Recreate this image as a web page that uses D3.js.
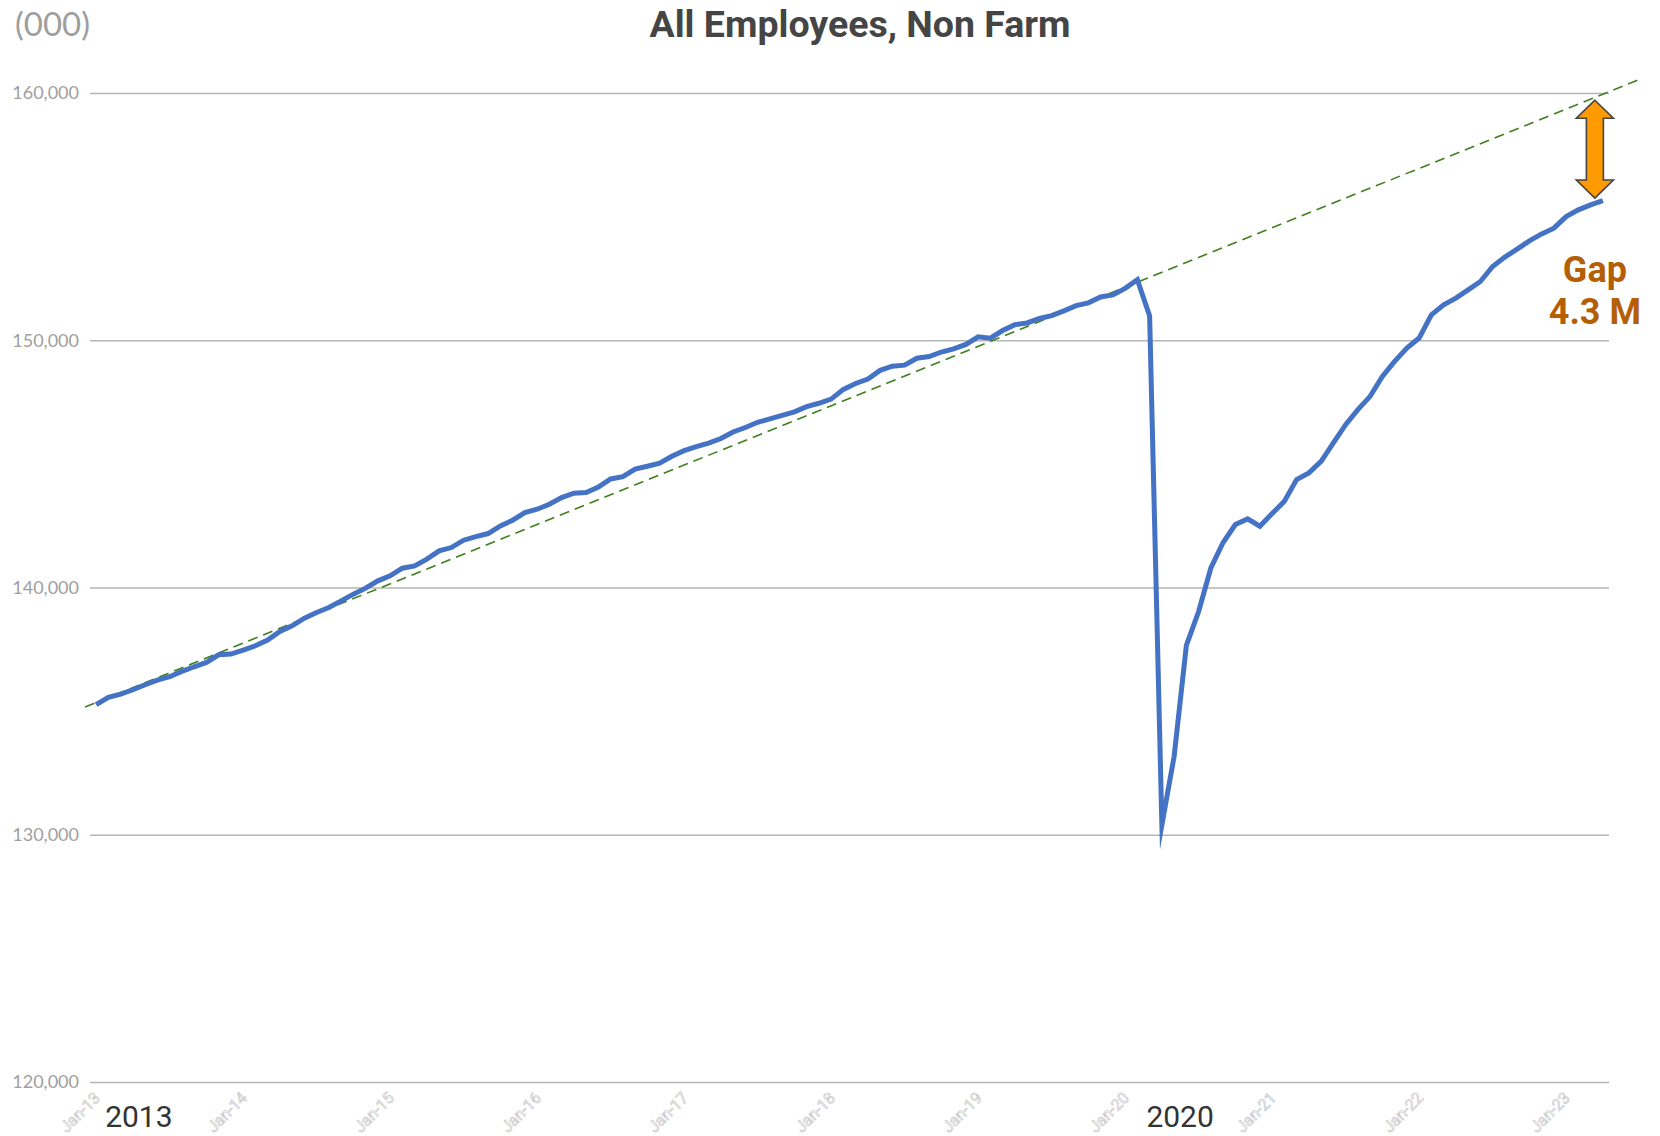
<!DOCTYPE html>
<html>
<head>
<meta charset="utf-8">
<script src="https://cdn.jsdelivr.net/npm/d3@7"></script>
<style>
  html, body { margin: 0; padding: 0; background: #ffffff; }
  svg { display: block; }
</style>
</head>
<body>
<svg id="chart" width="1660" height="1136"></svg>
<script>
// All employees, total nonfarm (thousands), monthly Jan 2013 – Apr 2023
const firstMonth = new Date(2013, 0, 1);
const employees = [
  135259, 135555, 135690, 135865, 136067, 136256, 136390, 136606, 136794, 136969, 137279, 137306,
  137468, 137643, 137872, 138222, 138451, 138761, 138990, 139192, 139461, 139731, 139973, 140269,
  140471, 140781, 140876, 141145, 141482, 141616, 141913, 142061, 142182, 142492, 142721, 143031,
  143165, 143367, 143637, 143812, 143839, 144060, 144390, 144484, 144792, 144904, 145030, 145310,
  145534, 145702, 145842, 146024, 146290, 146472, 146682, 146822, 146962, 147102, 147312, 147452,
  147620, 148012, 148250, 148432, 148782, 148950, 148992, 149272, 149342, 149524, 149650, 149832,
  150140, 150084, 150392, 150630, 150700, 150882, 150994, 151190, 151400, 151512, 151750, 151834,
  152100, 152450, 150980, 130400, 133170, 137660, 139030, 140790, 141820, 142545, 142776, 142477,
  142990, 143487, 144364, 144634, 145103, 145846, 146586, 147192, 147731, 148539, 149145, 149685,
  150089, 151030, 151434, 151705, 152040, 152376, 152982, 153362, 153685, 154020, 154303, 154533,
  155002, 155273, 155475, 155650
];
const months = d3.timeMonth.range(firstMonth, d3.timeMonth.offset(firstMonth, employees.length));

// Pre-pandemic linear trend: value at Jan-13 and monthly increment (thousands)
const trendStart = 135350;
const trendSlope = 200;
const trendSpan = [-0.9, 126];   // months covered by the dashed trend line

const yTicks = [120000, 130000, 140000, 150000, 160000];
const xTickLabels = ["Jan-13", "Jan-14", "Jan-15", "Jan-16", "Jan-17", "Jan-18",
                     "Jan-19", "Jan-20", "Jan-21", "Jan-22", "Jan-23"];
const yearMarks = [{ label: "2013", month: 0 }, { label: "2020", month: 85 }];

const svg = d3.select("#chart");
const plotLeft = 90, plotRight = 1609, plotTop = 93, plotBottom = 1082;

const x = d3.scaleLinear().domain([-0.5, employees.length - 0.5]).range([plotLeft, plotRight]);
const y = d3.scaleLinear().domain([120000, 160000]).range([plotBottom, plotTop]);
const trend = m => trendStart + trendSlope * m;

// Horizontal gridlines with value labels
const yAxis = d3.axisLeft(y)
  .tickValues(yTicks)
  .tickSize(-(plotRight - plotLeft))
  .tickPadding(11)
  .tickFormat(d3.format(","));
const gy = svg.append("g").attr("transform", `translate(${plotLeft},0)`).call(yAxis);
gy.select(".domain").remove();
gy.selectAll(".tick line").attr("stroke", "#b5b5b5").attr("stroke-width", 1.4);
gy.selectAll(".tick text")
  .attr("fill", "#a0a0a0")
  .style("font-family", "Lato, 'Noto Sans', sans-serif")
  .style("font-size", "18px");

// Unit note and title
svg.append("text").attr("x", 15).attr("y", 36)
  .attr("fill", "#9e9e9e")
  .style("font-family", "Lato, 'Noto Sans', sans-serif")
  .style("font-size", "33px")
  .text("(000)");
svg.append("text").attr("x", 860).attr("y", 37)
  .attr("text-anchor", "middle")
  .attr("fill", "#454545")
  .style("font-family", "Roboto, sans-serif")
  .style("font-weight", "700")
  .style("font-size", "37.5px")
  .text("All Employees, Non Farm");

// Rotated month labels (outlined)
const labelMonths = xTickLabels.map((t, i) => i * 12);
svg.append("g").selectAll("text").data(xTickLabels).join("text")
  .attr("transform", (d, i) => `translate(${x(labelMonths[i]) + 5},${1099}) rotate(-45)`)
  .attr("text-anchor", "end")
  .attr("fill", "#ffffff")
  .attr("stroke", "#c8c8c8")
  .attr("stroke-width", 0.7)
  .style("font-family", "Roboto, sans-serif")
  .style("font-size", "16px")
  .text(d => d);

// Year markers
svg.append("g").selectAll("text").data(yearMarks).join("text")
  .attr("x", d => x(d.month) + 9)
  .attr("y", 1127)
  .attr("fill", "#333333")
  .style("font-family", "Roboto, sans-serif")
  .style("font-size", "30px")
  .text(d => d.label);

// Dashed trend line
svg.append("path")
  .datum(trendSpan)
  .attr("fill", "none")
  .attr("stroke", "#3f7f1f")
  .attr("stroke-width", 1.6)
  .attr("stroke-dasharray", "10,6")
  .attr("d", d3.line().x(m => x(m)).y(m => y(trend(m))));

// Employment series
svg.append("path")
  .datum(employees)
  .attr("fill", "none")
  .attr("stroke", "#4472c4")
  .attr("stroke-width", 5)
  .attr("stroke-linejoin", "miter")
  .attr("stroke-miterlimit", 12)
  .attr("d", d3.line().x((d, i) => x(i)).y(d => y(d)));

// Gap between trend and latest value
const lastIdx = employees.length - 1;
const lastVal = employees[lastIdx];
const gap = trend(lastIdx) - lastVal;
const ax = x(lastIdx) - 8;
const aTop = y(trend(lastIdx)) + 6;
const aBot = y(lastVal) - 2.5;
const hw = 18.5, sw = 8.5, hl = 18;
const arrow = d3.path();
arrow.moveTo(ax, aTop);
arrow.lineTo(ax + hw, aTop + hl);
arrow.lineTo(ax + sw, aTop + hl);
arrow.lineTo(ax + sw, aBot - hl);
arrow.lineTo(ax + hw, aBot - hl);
arrow.lineTo(ax, aBot);
arrow.lineTo(ax - hw, aBot - hl);
arrow.lineTo(ax - sw, aBot - hl);
arrow.lineTo(ax - sw, aTop + hl);
arrow.lineTo(ax - hw, aTop + hl);
arrow.closePath();
svg.append("path")
  .attr("d", arrow.toString())
  .attr("fill", "#ff9a00")
  .attr("stroke", "#444444")
  .attr("stroke-width", 1.6)
  .attr("stroke-linejoin", "miter");

const gapText = svg.append("text")
  .attr("text-anchor", "middle")
  .attr("fill", "#b45f06")
  .style("font-family", "Roboto, sans-serif")
  .style("font-weight", "700")
  .style("font-size", "36px");
gapText.append("tspan").attr("x", ax).attr("y", 282).text("Gap");
gapText.append("tspan").attr("x", ax).attr("y", 324)
  .text(d3.format(".1f")(gap / 1000) + " M");
</script>
</body>
</html>
